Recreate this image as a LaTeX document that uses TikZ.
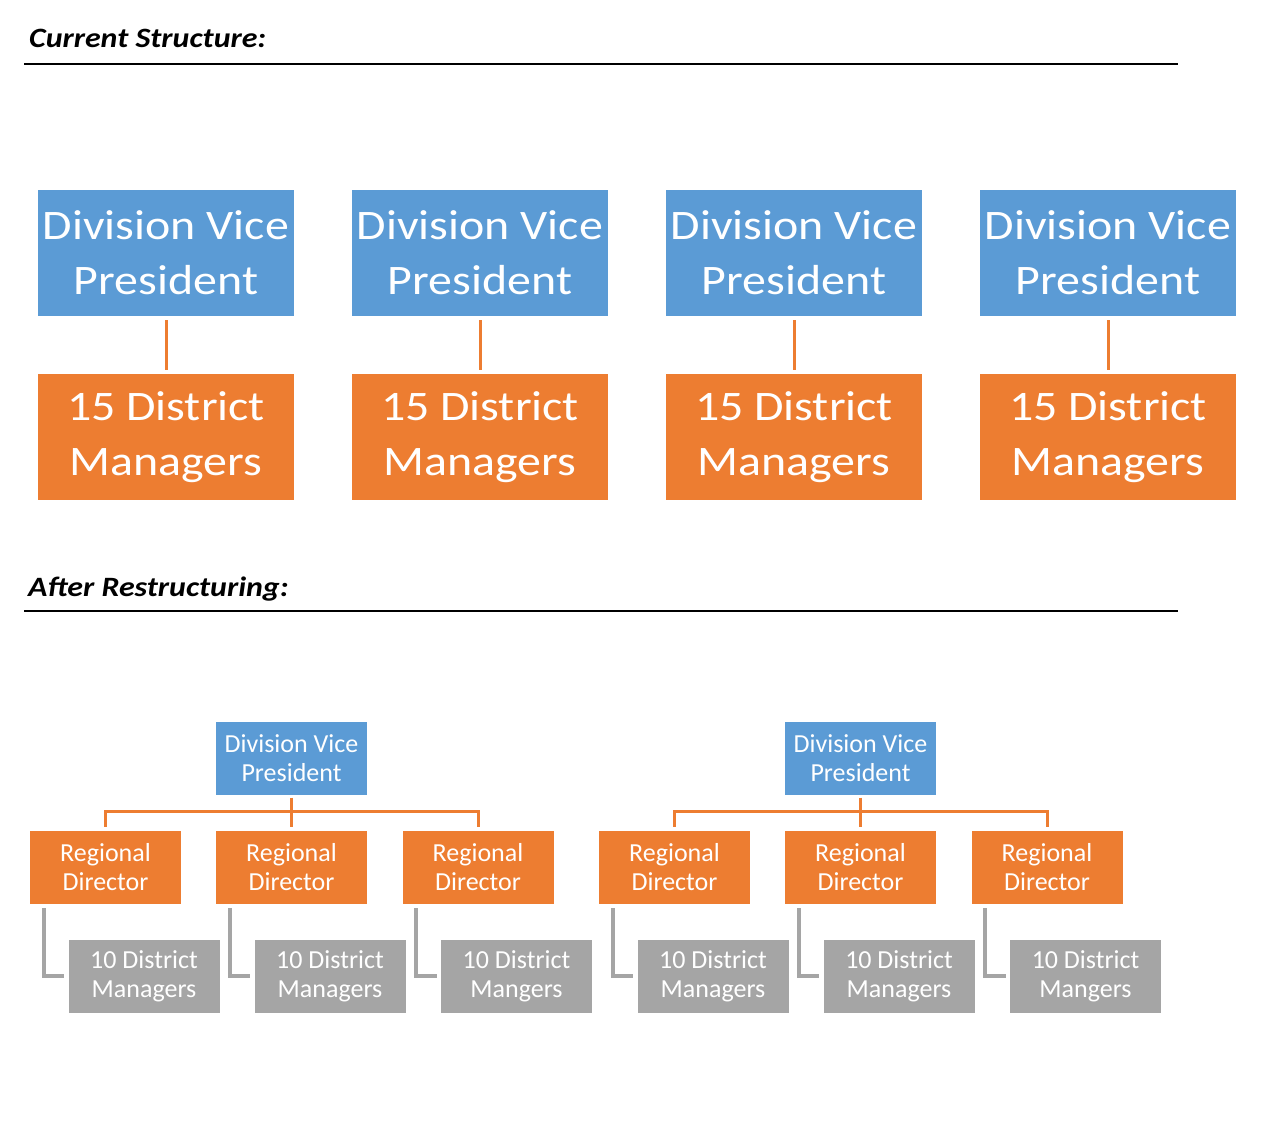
\documentclass[tikz,border=0pt]{standalone}
\usepackage{fontspec}
\setmainfont{Carlito}
\newfontfamily\widefont{Carlito}[FakeStretch=1.14]
\definecolor{boxblue}{HTML}{5B9BD5}
\definecolor{boxorange}{HTML}{ED7D31}
\definecolor{boxgray}{HTML}{A5A5A5}

\tikzset{
  bigbox/.style={fill=#1, text=white, minimum width=256pt, minimum height=126pt,
    inner sep=0pt, align=center, font=\widefont\fontsize{42}{55}\selectfont},
  smallbox/.style={fill=#1, text=white, minimum width=151pt, minimum height=73pt,
    inner sep=0pt, align=center, font=\fontsize{26}{29}\selectfont},
  orgline/.style={draw=boxorange, line width=3pt},
  grayline/.style={draw=boxgray, line width=4pt},
  heading/.style={anchor=base west, inner sep=0pt,
    font=\widefont\bfseries\itshape\fontsize{28}{34}\selectfont},
}

\begin{document}
\begin{tikzpicture}[x=1pt, y=-1pt]
  \useasboundingbox (0,0) rectangle (1280,1132);

  % current structure
  \node[heading] (curhead) at (29,48) {Current Structure:};
  \draw[line width=2pt] (24,64) -- (1178,64);

  \foreach \i/\x in {1/166, 2/480, 3/794, 4/1108} {
    \node[bigbox=boxblue] (dvp\i) at (\x,253) {Division Vice\\President};
    \node[bigbox=boxorange] (dm\i) at (\x,437) {15 District\\Managers};
    \draw[orgline, shorten <=4pt, shorten >=4pt] (dvp\i) -- (dm\i);
  }

  % after restructuring
  \node[heading] (afterhead) at (28,596) {After Restructuring:};
  \draw[line width=2pt] (24,611) -- (1178,611);

  \foreach \n/\s in {a/0, b/569} {
    \begin{scope}[shift={(\s,0)}]
      \node[smallbox=boxblue] (vp\n) at (291.5,758) {Division Vice\\President};

      \node[smallbox=boxorange] (rd\n1) at (105.5,867.5) {Regional\\Director};
      \node[smallbox=boxorange] (rd\n2) at (291.5,867.5) {Regional\\Director};
      \node[smallbox=boxorange] (rd\n3) at (478,867.5) {Regional\\Director};

      \node[smallbox=boxgray] (gm\n1) at (144,976) {10 District\\Managers};
      \node[smallbox=boxgray] (gm\n2) at (330,976) {10 District\\Managers};
      \node[smallbox=boxgray] (gm\n3) at (516.5,976) {10 District\\Mangers};

      \draw[orgline, shorten <=3pt] (vp\n.south) -- ([yshift=4pt]rd\n2.north);
      \draw[orgline] ([yshift=4pt]rd\n1.north) -- ++(0,-15) -| ([yshift=4pt]rd\n3.north);

      \foreach \j in {1,2,3}
        \draw[grayline] ([shift={(14pt,-4pt)}]rd\n\j.south west) |- ([xshift=-4pt]gm\n\j.west);
    \end{scope}
  }
\end{tikzpicture}
\end{document}
